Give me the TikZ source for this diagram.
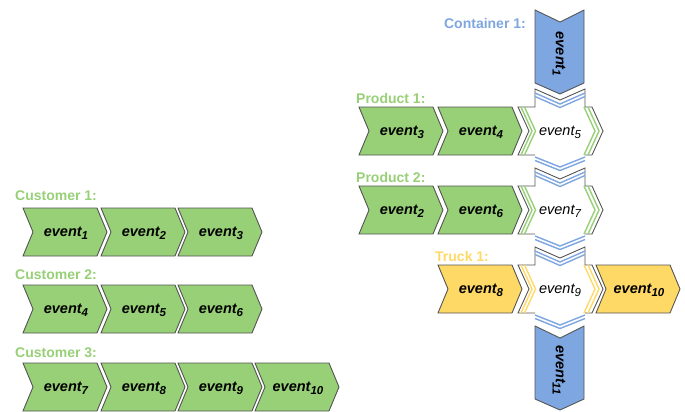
\documentclass[tikz,border=0pt]{standalone}
\usepackage{fontspec}
\setmainfont{Liberation Sans}
\definecolor{cgreen}{HTML}{97D077}
\definecolor{cblue}{HTML}{7EA6E0}
\definecolor{cyellow}{HTML}{FFD966}
\definecolor{cgray}{HTML}{555555}
\newcommand{\sbs}[1]{\raisebox{-3.2pt}{\fontsize{11.5}{12}\selectfont #1}}
\tikzset{
  chev/.style={draw=cgray, line width=0.9pt, line join=miter},
  evt/.style={font=\fontsize{14.5}{16}\selectfont\bfseries\itshape, inner sep=0pt},
  evtl/.style={font=\fontsize{14.5}{16}\selectfont\itshape, inner sep=0pt},
  lbl/.style={font=\fontsize{14}{16}\selectfont\bfseries, inner sep=0pt, anchor=west},
  stripe/.style={line width=1.4pt, line join=miter},
}
% horizontal step: name, x, ytop, color, text
\newcommand{\hstep}[5]{%
  \draw[chev,fill=#4] (#2,#3) -- (#2+74,#3) -- (#2+84,#3+24) -- (#2+74,#3+48) -- (#2,#3+48) -- (#2+10,#3+24) -- cycle;
  \node[evt] (#1) at (#2+43,#3+25) {#5};
}
% vertical step: name, x, ytop, color, text
\newcommand{\vstep}[5]{%
  \draw[chev,fill=#4] (#2,#3) -- (#2+25,#3+12) -- (#2+49,#3) -- (#2+49,#3+73) -- (#2+25,#3+84) -- (#2,#3+73) -- cycle;
  \node[evt,rotate=-90] (#1) at (#2+24,#3+44) {#5};
}
% cross: name, ytop, side color, text
\newcommand{\cross}[4]{%
  \fill[white] (535,#2-18) -- (560,#2-7) -- (585,#2-18) -- (585,#2) -- (592,#2) -- (603,#2+24) -- (592,#2+48) -- (585,#2+48) -- (585,#2+50) -- (560,#2+60) -- (535,#2+50) -- (535,#2+48) -- (518,#2+48) -- (529,#2+24) -- (518,#2) -- (535,#2) -- cycle;
  \draw[chev] (535,#2+48) -- (518,#2+48) -- (529,#2+24) -- (518,#2) -- (535,#2) -- (535,#2-18) -- (560,#2-7) -- (585,#2-18) -- (585,#2) -- (592,#2) -- (603,#2+24) -- (592,#2+48) -- (585,#2+48);
  \draw[stripe,#3] (521,#2) -- (532,#2+24) -- (521,#2+48);
  \draw[stripe,#3] (524.5,#2) -- (535.5,#2+24) -- (524.5,#2+48);
  \draw[stripe,#3] (584,#2) -- (595,#2+24) -- (584,#2+48);
  \draw[stripe,#3] (588,#2) -- (599,#2+24) -- (588,#2+48);
  \draw[stripe,cblue] (535,#2-14) -- (560,#2-3) -- (585,#2-14);
  \draw[stripe,cblue] (535,#2-10.5) -- (560,#2+0.5) -- (585,#2-10.5);
  \draw[stripe,cblue] (535,#2+50) -- (560,#2+60) -- (585,#2+50);
  \draw[stripe,cblue] (535,#2+53.5) -- (560,#2+63.5) -- (585,#2+53.5);
  \node[evtl] (#1) at (560,#2+25) {#4};
}
\begin{document}
\begin{tikzpicture}[x=1pt,y=-1pt]
\useasboundingbox (0,0) rectangle (685,412);
% Customers
\node[lbl,text=cgreen] (c1) at (15,196) {Customer 1:};
\hstep{c1e1}{23}{208}{cgreen}{event\sbs{1}}
\hstep{c1e2}{101}{208}{cgreen}{event\sbs{2}}
\hstep{c1e3}{178}{208}{cgreen}{event\sbs{3}}
\node[lbl,text=cgreen] (c2) at (15,275) {Customer 2:};
\hstep{c2e4}{23}{285}{cgreen}{event\sbs{4}}
\hstep{c2e5}{101}{285}{cgreen}{event\sbs{5}}
\hstep{c2e6}{178}{285}{cgreen}{event\sbs{6}}
\node[lbl,text=cgreen] (c3) at (15,353) {Customer 3:};
\hstep{c3e7}{23}{363}{cgreen}{event\sbs{7}}
\hstep{c3e8}{101}{363}{cgreen}{event\sbs{8}}
\hstep{c3e9}{178}{363}{cgreen}{event\sbs{9}}
\hstep{c3e10}{255}{363}{cgreen}{event\sbs{10}}
% Container
\node[lbl,text=cblue,anchor=east] (k1) at (526,23) {Container 1:};
\vstep{ke1}{535}{10}{cblue}{event\sbs{1}}
% Product 1
\node[lbl,text=cgreen] (p1) at (356,98) {Product 1:};
\hstep{p1e3}{359}{107}{cgreen}{event\sbs{3}}
\hstep{p1e4}{438}{107}{cgreen}{event\sbs{4}}
\cross{x5}{107}{cgreen}{event\sbs{5}}
% Product 2
\node[lbl,text=cgreen] (p2) at (356,177) {Product 2:};
\hstep{p2e2}{359}{186}{cgreen}{event\sbs{2}}
\hstep{p2e6}{438}{186}{cgreen}{event\sbs{6}}
\cross{x7}{186}{cgreen}{event\sbs{7}}
% Truck
\node[lbl,text=cyellow] (t1) at (435,256) {Truck 1:};
\hstep{t1e8}{438}{265}{cyellow}{event\sbs{8}}
\hstep{t1e10}{596}{265}{cyellow}{event\sbs{10}}
\vstep{ke11}{535}{326}{cblue}{event\sbs{11}}
\cross{x9}{265}{cyellow}{event\sbs{9}}
\end{tikzpicture}
\end{document}
